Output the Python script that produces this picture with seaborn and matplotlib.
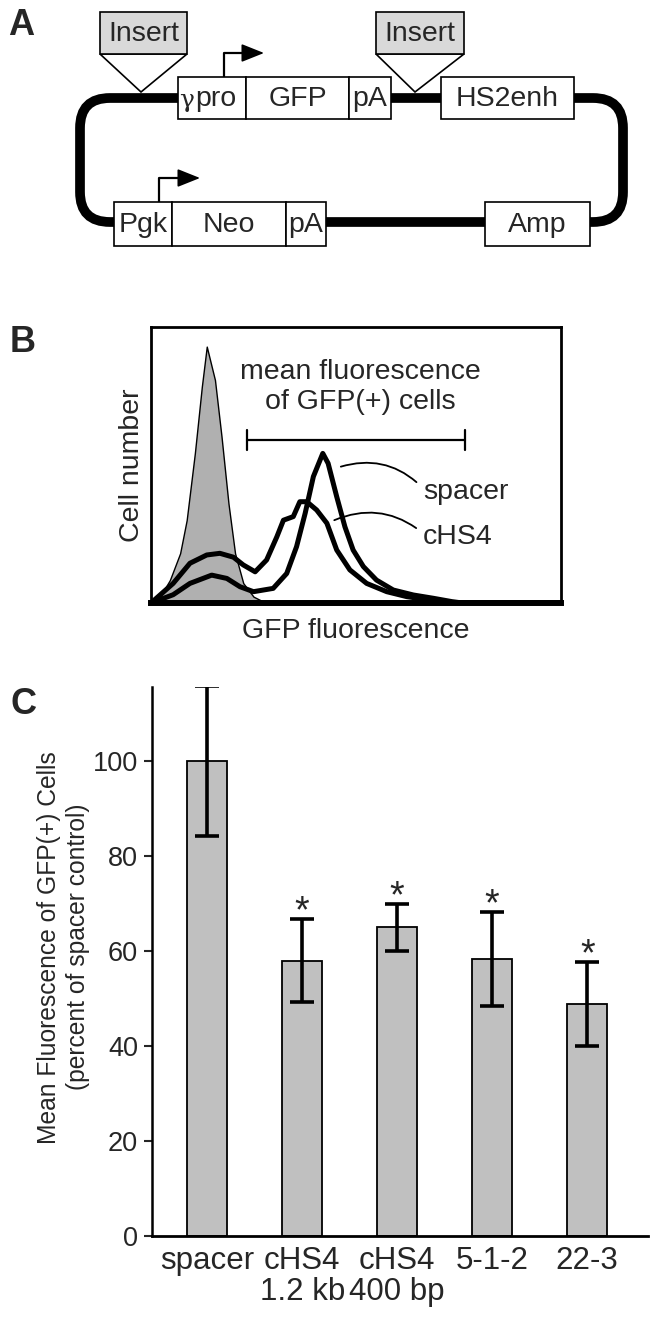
import matplotlib
matplotlib.use("Agg")
import matplotlib.pyplot as plt
import seaborn as sns
from matplotlib.patches import FancyBboxPatch, Rectangle, Polygon

# ---- panel A: plasmid map (label, left, right) in map units (~pixels)
top_parts = [("pro", 178, 246), ("GFP", 246, 349), ("pA", 349, 391), ("HS2enh", 441, 574)]
bottom_parts = [("Pgk", 114, 172), ("Neo", 172, 286), ("pA", 286, 326), ("Amp", 485, 590)]
insert_sites = [(100, 187, 141), (376, 464, 415)]   # box left, box right, cut point
promoters = [(224, 77, 264), (159, 202, 200)]       # x, box top, arrow tip

# ---- panel B: flow histograms (fluorescence, cell number, arbitrary units)
neg_x = [0, 2.2, 4.6, 7.1, 8.7, 10.7, 12.4, 13.6, 15.6, 17.2, 18.9, 20.5, 22.5, 25.0, 27.4, 29]
neg_y = [0, 2.3, 8.3, 18, 30, 54.3, 78.4, 92.9, 80.8, 60.3, 36, 18, 7.2, 2.3, 0.5, 0]

spacer_x = [0, 5.4, 9.5, 14.8, 18.5, 21.7, 25.0, 29.8, 33.1, 35.5, 37.6, 39.6, 41.9, 43.2,
            45.3, 47.3, 49.3, 51.8, 55.0, 59.1, 64.0, 68.9, 73.4, 76, 100]
spacer_y = [0, 3, 7.1, 10.1, 8.9, 5.9, 4.1, 5.3, 10.7, 20.4, 32.5, 45.8, 54.2, 50.6,
            38.5, 27.6, 19.2, 13.2, 8.3, 4.7, 2.9, 1.7, 0.5, 0, 0]

chs4_x = [0, 5.4, 9.5, 13.6, 16.8, 20.1, 22.5, 25.4, 28.2, 30.7, 32.3, 34.7, 36.3, 38.0,
          40.4, 42.9, 45.3, 48.5, 52.6, 57.5, 62.4, 68.0, 71, 100]
chs4_y = [0, 7.1, 14.4, 17.4, 18, 16.6, 13.8, 11.3, 15.6, 24, 30, 31.3, 36.7, 36.7,
          33.7, 28.9, 19.2, 12, 7.1, 4.1, 2.3, 1.1, 0, 0]

gate = [23.4, 76.6]

# ---- panel C: mean fluorescence of GFP(+) cells
samples = ["spacer", "cHS4\n1.2 kb", "cHS4\n400 bp", "5-1-2", "22-3"]
mean_fluor = [100, 58, 65, 58.3, 48.9]
err = [15.8, 8.7, 4.9, 9.9, 8.8]
significant = [False, True, True, True, True]

W, H = 653, 1322
sns.set_style("white")
plt.rcParams["font.family"] = ["Liberation Sans", "DejaVu Sans"]

fig = plt.figure(figsize=(W / 100, H / 100), dpi=100)


def px_axes(left, top, right, bottom):
    return fig.add_axes([left / W, 1 - bottom / H, (right - left) / W, (bottom - top) / H])


# ================= A =================
axA = px_axes(0, 0, W, 270)
axA.set_xlim(0, W)
axA.set_ylim(270, 0)
axA.axis("off")

axA.add_patch(FancyBboxPatch((80, 98), 543, 124, boxstyle="round,pad=0,rounding_size=30",
                             fill=False, ec="black", lw=7))
for parts, (y0, y1) in [(top_parts, (77, 119)), (bottom_parts, (202, 246))]:
    for name, x0, x1 in parts:
        axA.add_patch(Rectangle((x0, y0), x1 - x0, y1 - y0, fc="white", ec="black", lw=1.2, zorder=3))
        if name == "pro":
            # gamma promoter: serif gamma followed by sans "pro"
            axA.text(x0 + 1, (y0 + y1) / 2 + 2, "γ", ha="left", va="center",
                     fontsize=18, family="DejaVu Serif", zorder=4)
            axA.text(x0 + 17, (y0 + y1) / 2 + 1, "pro", ha="left", va="center",
                     fontsize=20.5, zorder=4)
        else:
            axA.text((x0 + x1) / 2, (y0 + y1) / 2 + 1, name, ha="center", va="center",
                     fontsize=20.5, zorder=4)

for x0, x1, cut in insert_sites:
    axA.add_patch(Polygon([(x0, 54), (x1, 54), (cut, 92)], closed=True, fc="white",
                          ec="black", lw=1.2, zorder=2))
    axA.add_patch(Rectangle((x0, 12), x1 - x0, 42, fc="#d9d9d9", ec="black", lw=1.2, zorder=3))
    axA.text((x0 + x1) / 2, 34, "Insert", ha="center", va="center", fontsize=20.5, zorder=4)

for x, ytop, tip in promoters:
    axA.plot([x, x, tip - 12], [ytop, ytop - 24, ytop - 24], color="black", lw=1.6)
    axA.annotate("", xy=(tip, ytop - 24), xytext=(tip - 14, ytop - 24),
                 arrowprops=dict(arrowstyle="-|>,head_length=1.0,head_width=0.4",
                                 mutation_scale=14, color="black", lw=1.2,
                                 shrinkA=0, shrinkB=0))

# ================= B =================
axB = px_axes(151, 327, 561, 603)
axB.fill_between(neg_x, neg_y, color="#b0b0b0", ec="black", lw=1.0, zorder=1)
sns.lineplot(x=spacer_x, y=spacer_y, sort=False, estimator=None, color="black", lw=3.6, ax=axB, zorder=3)
sns.lineplot(x=chs4_x, y=chs4_y, sort=False, estimator=None, color="black", lw=3.6, ax=axB, zorder=3)
axB.set_xlim(0, 100)
axB.set_ylim(0, 100)
axB.set_xticks([])
axB.set_yticks([])
for side in ["left", "right", "top"]:
    axB.spines[side].set_linewidth(2.0)
    axB.spines[side].set_color("black")
axB.spines["bottom"].set_linewidth(4.3)
axB.spines["bottom"].set_color("black")

axB.plot(gate, [59.1, 59.1], color="black", lw=1.6)
for gx in gate:
    axB.plot([gx, gx], [55.5, 62.7], color="black", lw=1.6)
axB.text(51, 78.1, "mean fluorescence\nof GFP(+) cells", ha="center", va="center",
         fontsize=20.5, linespacing=1.2)

axB.annotate("spacer", xy=(46.3, 49.4), xytext=(66.3, 40.2), ha="left", va="center",
             fontsize=20.5,
             arrowprops=dict(arrowstyle="-", connectionstyle="arc3,rad=0.3", color="black",
                             lw=1.3, relpos=(0, 0.65), shrinkA=3, shrinkB=0))
axB.annotate("cHS4", xy=(44.7, 30), xytext=(66.3, 23.9), ha="left", va="center",
             fontsize=20.5,
             arrowprops=dict(arrowstyle="-", connectionstyle="arc3,rad=0.3", color="black",
                             lw=1.3, relpos=(0, 0.65), shrinkA=3, shrinkB=0))
axB.set_ylabel("Cell number", fontsize=20.5, labelpad=4)
axB.set_xlabel("GFP fluorescence", fontsize=20.5, labelpad=11)

# ================= C =================
axC = px_axes(152, 687, 648, 1236)
sns.barplot(x=samples, y=mean_fluor, color="#c0c0c0", saturation=1, edgecolor="black",
            linewidth=1.3, width=0.42, ax=axC)
axC.errorbar(range(len(samples)), mean_fluor, yerr=err, fmt="none", ecolor="black",
             elinewidth=2.6, capsize=8.5, capthick=2.6, zorder=5)
for i, (m, e, sig) in enumerate(zip(mean_fluor, err, significant)):
    if sig:
        axC.text(i, m + e - 0.6, "*", ha="center", va="baseline", fontsize=27)

axC.set_xlim(-0.58, 4.64)
axC.set_ylim(0, 115.6)
axC.set_yticks([0, 20, 40, 60, 80, 100])
axC.tick_params(axis="y", direction="out", length=6, width=1.5, pad=4, labelsize=19.5, left=True)
axC.tick_params(axis="x", length=0, pad=7, labelsize=22.5)
for lab in axC.get_xticklabels():
    lab.set_linespacing(1.05)
sns.despine(ax=axC)
axC.spines["left"].set_linewidth(1.8)
axC.spines["bottom"].set_linewidth(2.0)
axC.spines["left"].set_color("black")
axC.spines["bottom"].set_color("black")
axC.set_ylabel("Mean Fluorescence of GFP(+) Cells\n(percent of spacer control)",
               fontsize=17.7, linespacing=1.25)
axC.yaxis.set_label_coords(-0.125, 0.526)

# panel letters
for letter, x, y in [("A", 8, 35), ("B", 10, 352), ("C", 10, 714)]:
    fig.text(x / W, 1 - y / H, letter, fontsize=26, fontweight="bold", ha="left", va="baseline")

fig.savefig("out.png", dpi=100)
